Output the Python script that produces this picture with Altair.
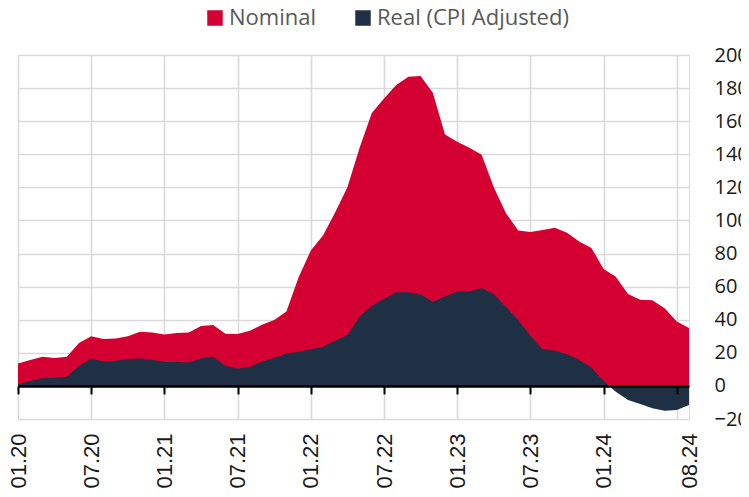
import json
import altair as alt
import pandas as pd

months = [f"{m:02d}.{y}" for y in range(20, 25) for m in range(1, 13)][:56]

nominal = [13.5, 15.6, 17.6, 16.8, 17.6, 26.0, 30.0, 28.3, 28.7, 30.0,
           32.7, 32.3, 31.0, 32.0, 32.3, 36.2, 36.8, 31.5, 31.3, 33.3,
           37.0, 39.8, 45.0, 65.6, 81.8, 90.9, 105.0, 120.0, 144.0, 165.0,
           173.7, 181.8, 186.9, 187.3, 177.2, 152.0, 147.5, 144.0, 139.7, 120.0,
           104.4, 94.0, 93.0, 94.3, 95.6, 92.5, 87.3, 83.4, 70.7, 66.0,
           55.6, 52.1, 51.7, 46.9, 39.0, 35.0]
real = [1.0, 3.0, 4.6, 5.0, 5.5, 12.0, 16.6, 14.7, 15.2, 16.2,
        16.6, 15.8, 14.5, 14.5, 14.1, 16.6, 17.6, 12.0, 10.5, 11.5,
        14.7, 16.8, 19.6, 20.6, 22.2, 23.6, 27.3, 30.7, 41.8, 48.5,
        52.5, 56.6, 56.6, 55.2, 50.9, 54.1, 57.0, 57.0, 59.2, 55.6,
        47.5, 39.8, 30.3, 22.2, 21.2, 19.2, 15.6, 11.1, 3.0, -3.5,
        -8.5, -11.0, -13.5, -15.0, -14.5, -11.5]

series_names = ["Nominal", "Real (CPI Adjusted)"]
series_colors = ["#D40032", "#1F3045"]

tick_labels = ["01.20", "07.20", "01.21", "07.21", "01.22", "07.22",
               "01.23", "07.23", "01.24", "08.24"]
grid_labels = ["01.20", "07.20", "01.21", "07.21", "01.22", "07.22",
               "01.23", "07.23", "01.24", "07.24"]

y_ticks = list(range(-20, 201, 20))

rows = []
for i, m in enumerate(months):
    rows.append({"i": i, "month": m, "series": series_names[0], "value": nominal[i]})
    rows.append({"i": i, "month": m, "series": series_names[1], "value": real[i]})
df = pd.DataFrame(rows)

grid_vals = [months.index(t) for t in grid_labels]
label_vals = [months.index(t) for t in tick_labels]

W, H = 671, 364
FONT = "Open Sans"
XFONT = "Liberation Sans"
zero_offset = -H * (0 - y_ticks[0]) / (y_ticks[-1] - y_ticks[0])

color = alt.Color(
    "series:N",
    scale=alt.Scale(domain=series_names, range=series_colors),
    legend=alt.Legend(
        title=None, orient="none", direction="horizontal",
        legendX=186, legendY=-48,
        symbolType="square", symbolSize=240, symbolStrokeWidth=0,
        labelFont=FONT, labelFontSize=22, labelColor="#595959", labelLimit=0,
        columnPadding=36, labelOffset=3,
    ),
)

y_axis = alt.Axis(
    orient="right", values=y_ticks, title=None, domain=False, ticks=False,
    labelPadding=25, labelFont=FONT, labelFontSize=20, labelColor="#1a1a1a",
    gridColor="#d9d9d9", gridWidth=1.6, labelAlign="left",
)
y_scale = alt.Scale(domain=[y_ticks[0], y_ticks[-1]], nice=False)

x_scale = alt.Scale(domain=[0, len(months) - 1], nice=False, zero=False)

label_expr = json.dumps(months) + "[datum.value]"

x_labels = alt.X(
    "i:Q", scale=x_scale,
    axis=alt.Axis(
        orient="bottom", values=label_vals, title=None, domain=False, ticks=False,
        grid=False, labelExpr=label_expr, labelAngle=-90, labelPadding=14,
        labelFont=XFONT, labelFontSize=22, labelColor="#1a1a1a",
        labelFlush=False, labelOverlap=False,
    ),
)

x_grid = alt.X(
    "i:Q", scale=x_scale,
    axis=alt.Axis(
        orient="bottom", values=grid_vals, title=None, labels=False, domain=False,
        ticks=False, grid=True, gridColor="#d9d9d9", gridWidth=1.6,
    ),
)

x_zero = alt.X(
    "i:Q", scale=x_scale,
    axis=alt.Axis(
        orient="bottom", values=grid_vals, title=None, labels=False, grid=False,
        domain=True, domainColor="#000000", domainWidth=2.5,
        ticks=True, tickColor="#000000", tickWidth=2, tickSize=8,
        offset=zero_offset, zindex=2,
    ),
)

base = alt.Chart(df)

gridlayer = base.transform_filter(alt.datum.series == series_names[0]).mark_area(
    opacity=0
).encode(x=x_grid, y=alt.Y("value:Q", scale=y_scale, axis=y_axis))

nom = base.transform_filter(alt.datum.series == series_names[0]).mark_area(
    interpolate="linear"
).encode(x=x_labels, y=alt.Y("value:Q", scale=y_scale, axis=y_axis), color=color)

rl = base.transform_filter(alt.datum.series == series_names[1]).mark_area(
    interpolate="linear"
).encode(x=x_zero, y=alt.Y("value:Q", scale=y_scale, axis=y_axis), color=color)

chart = alt.layer(gridlayer, nom, rl).resolve_axis(x="independent").properties(
    width=W, height=H,
    autosize=alt.AutoSizeParams(type="none"),
    padding={"left": 10, "top": 47, "right": 52, "bottom": 70},
).configure_view(stroke=None).configure(background="white")

chart.save("out.html", embed_options={"renderer": "svg", "actions": False})
